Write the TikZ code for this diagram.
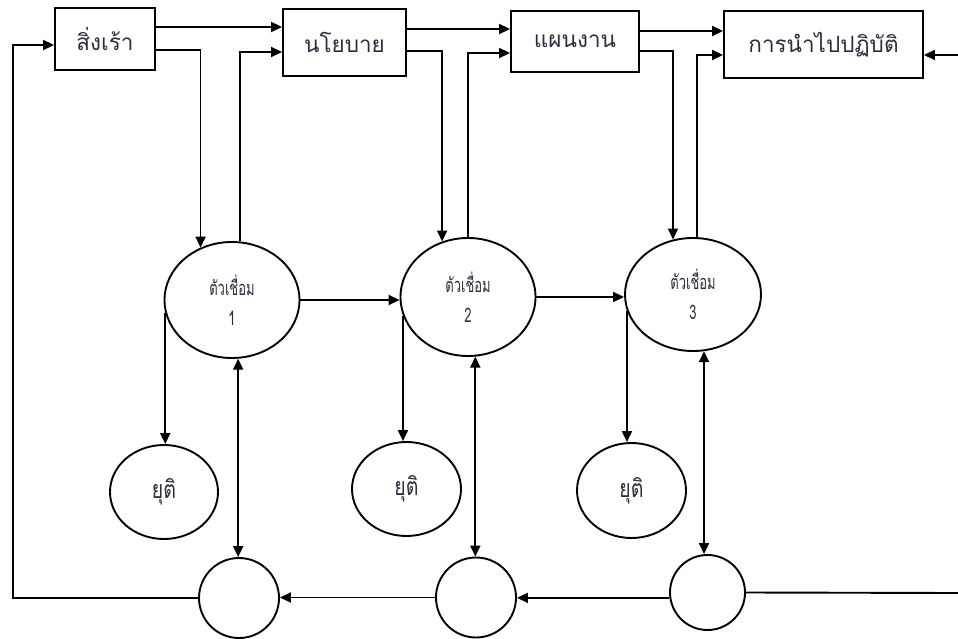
\documentclass[tikz,border=0pt]{standalone}
\usepackage{fontspec}
\newfontfamily\thai[Script=Thai]{Loma}
\newfontfamily\thainarrow[Script=Thai,FakeStretch=0.65]{Loma}
\newfontfamily\thaimid[Script=Thai,FakeStretch=0.78]{Loma}
\usetikzlibrary{arrows.meta,shapes.geometric}
\definecolor{txt}{RGB}{45,45,65}
\begin{document}
\begin{tikzpicture}[x=1pt,y=-1pt,
  every node/.style={font=\thai, text=txt, inner sep=0pt},
  box/.style={draw=black, line width=1.9pt, font=\thai\fontsize{22.5}{26}\selectfont},
  link/.style={draw=black, ellipse, line width=1.9pt, minimum width=135pt, minimum height=116pt, align=center, font=\thainarrow\fontsize{20}{24}\selectfont},
  stopnode/.style={draw=black, ellipse, line width=1.9pt, minimum width=108pt, minimum height=94pt, font=\thaimid\fontsize{25}{28}\selectfont},
  ring/.style={draw=black, circle, line width=1.9pt, minimum size=80pt},
  conn/.style={line width=1.9pt},
  arr/.style={conn, -{Triangle[length=11pt,width=10pt]}},
  darr/.style={conn, {Triangle[length=11pt,width=10pt]}-{Triangle[length=11pt,width=10pt]}}
]
\useasboundingbox (0,0) rectangle (958,639);
% boxes
\node[box, minimum width=100pt, minimum height=62pt] (b1) at (105,39) {สิ่งเร้า};
\node[box, minimum width=123pt, minimum height=67pt] (b2) at (344.5,42.5) {นโยบาย};
\node[box, minimum width=128pt, minimum height=61pt] (b3) at (575,41.5) {แผนงาน};
\node[box, minimum width=199pt, minimum height=67pt] (b4) at (823.5,44.5) {การนำไปปฏิบัติ};
% link ellipses
\node[link] (e1) at (232,300) {ตัวเชื่อม\\[6pt]1};
\node[link, minimum height=118pt] (e2) at (468,297) {ตัวเชื่อม\\[6pt]2};
\node[link, minimum width=136pt, minimum height=113pt] (e3) at (693,294.5) {ตัวเชื่อม\\[6pt]3};
% stop ellipses
\node[stopnode] (y1) at (164,492) {ยุติ};
\node[stopnode, minimum width=109pt] (y2) at (406.5,489) {ยุติ};
\node[stopnode, minimum width=109pt, minimum height=95pt] (y3) at (631.5,490.5) {ยุติ};
% circles
\node[ring] (c1) at (239,598) {};
\node[ring] (c2) at (476,597.5) {};
\node[ring, minimum size=75pt] (c3) at (707.5,592.5) {};
% free ends
\coordinate (lft) at (13,300);
\coordinate (rin) at (958,55);
\coordinate (rout) at (958,593);
% top row connectors
\coordinate (p1) at ([yshift=12pt]b1.east);
\draw[arr] (p1) -- (p1 -| b2.west);
\coordinate (p2) at ([yshift=-11pt]b1.east);
\draw[arr] (p2) -| (e1.121);
\draw[arr] (e1.82) |- ([yshift=-9.5pt]b2.west);
\coordinate (p3) at ([yshift=13.5pt]b2.east);
\draw[arr] (p3) -- (p3 -| b3.west);
\coordinate (p4) at ([yshift=-8.5pt]b2.east);
\draw[arr] (p4) -| (e2.115.5);
\draw[arr] (e2.90) |- ([yshift=-11.5pt]b3.west);
\coordinate (p5) at ([yshift=10.5pt]b3.east);
\draw[arr] (p5) -- (p5 -| b4.west);
\coordinate (p6) at ([yshift=-9.5pt]b3.east);
\draw[arr] (p6) -| (e3.110.7);
\draw[arr] (e3.86) |- ([yshift=-10.5pt]b4.west);
\draw[arr] (rin) -- (rin -| b4.east);
% between links
\draw[arr] (e1.east) -- (e1.east -| e2.west);
\draw[arr] (e2.east) -- (e2.east -| e3.west);
% to stops
\draw[arr] (e1.191) -- (e1.191 |- y1.north);
\draw[arr] (e2.196) -- (e2.196 |- y2.north);
\draw[arr] (e3.194) -- (e3.194 |- y3.north);
% links <-> circles
\draw[darr] (e1.-84) -- (e1.-84 |- c1.north);
\draw[darr] (e2.-83) -- (e2.-83 |- c2.north);
\draw[darr] (e3.-79) -- (e3.-79 |- c3.north);
% bottom row
\draw[arr] (c3.188) -- (c3.188 -| c2.east);
\draw[arr] (c2.west) -- (c2.west -| c1.east);
\draw[arr] (c1.west) -- (c1.west -| lft) |- ([yshift=-6pt]b1.west);
\draw[conn] (c3.east) -- (rout);
\end{tikzpicture}
\end{document}
